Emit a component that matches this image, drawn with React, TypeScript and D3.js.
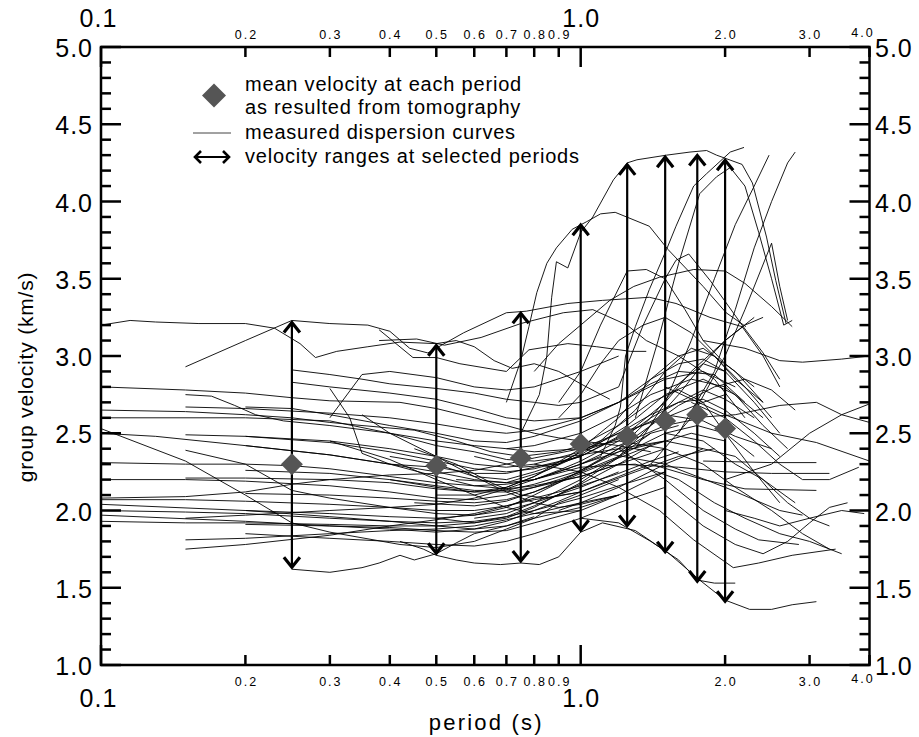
import { useEffect, useRef } from 'react';
import * as d3 from 'd3';

type Pt = [number, number];

// periods where tomography gives a mean velocity and a velocity range
const selectedPeriods = [0.25, 0.5, 0.75, 1.0, 1.25, 1.5, 1.75, 2.0];
const meanVelocity = [2.3, 2.29, 2.34, 2.43, 2.48, 2.58, 2.62, 2.53];
const minVelocity = [1.62, 1.71, 1.66, 1.86, 1.89, 1.72, 1.53, 1.4];
const maxVelocity = [3.23, 3.08, 3.29, 3.86, 4.25, 4.3, 4.31, 4.28];

const xMajorTicks = [0.1, 1.0];
const xMinorTicks = [0.2, 0.3, 0.4, 0.5, 0.6, 0.7, 0.8, 0.9, 2.0, 3.0, 4.0];
const yMajorTicks = [1.0, 1.5, 2.0, 2.5, 3.0, 3.5, 4.0, 4.5, 5.0];

const legendLabels = [
    'mean velocity at each period',
    'as resulted from tomography',
    'measured dispersion curves',
    'velocity ranges at selected periods',
];

// measured dispersion curves, [period (s), group velocity (km/s)]
const curvesFrom010: Pt[][] = [
    [[0.1, 3.2], [0.115, 3.23], [0.13, 3.22], [0.16, 3.21], [0.2, 3.21], [0.23, 3.18], [0.26, 3.08], [0.28, 2.99], [0.31, 3.03], [0.36, 3.06], [0.42, 3.09], [0.5, 3.08], [0.55, 3.1], [0.6, 3.06], [0.66, 2.97], [0.72, 2.92], [0.8, 2.95], [0.9, 2.9], [1.0, 2.82], [1.15, 2.72]],
    [[0.1, 2.8], [0.15, 2.78], [0.2, 2.76], [0.25, 2.73], [0.3, 2.71], [0.42, 2.7], [0.5, 2.66], [0.6, 2.6], [0.7, 2.55], [0.8, 2.5], [0.9, 2.47], [1.0, 2.45], [1.2, 2.42], [1.4, 2.38]],
    [[0.1, 2.65], [0.15, 2.64], [0.2, 2.62], [0.25, 2.6], [0.3, 2.57], [0.35, 2.55], [0.45, 2.52], [0.55, 2.45], [0.65, 2.38], [0.75, 2.35], [0.9, 2.38], [1.0, 2.42], [1.2, 2.55], [1.4, 2.7], [1.6, 2.78], [1.8, 2.7], [2.0, 2.5], [2.3, 2.25], [2.6, 2.05]],
    [[0.1, 2.6], [0.2, 2.6], [0.3, 2.58], [0.4, 2.5], [0.5, 2.42], [0.6, 2.38], [0.7, 2.33], [0.8, 2.32], [1.0, 2.36], [1.2, 2.4], [1.5, 2.45], [1.8, 2.4]],
    [[0.1, 2.53], [0.15, 2.32], [0.2, 2.1], [0.25, 1.92], [0.3, 1.86], [0.42, 1.78], [0.5, 1.76], [0.6, 1.8], [0.7, 1.88], [0.8, 1.95], [0.9, 2.05], [1.0, 2.1], [1.2, 2.2]],
    [[0.1, 2.5], [0.13, 2.48], [0.2, 2.42], [0.3, 2.36], [0.4, 2.3], [0.5, 2.25], [0.6, 2.2], [0.7, 2.18], [0.8, 2.2], [0.9, 2.26], [1.0, 2.32], [1.2, 2.45], [1.4, 2.6], [1.6, 2.7], [1.8, 2.78], [2.0, 2.72], [2.3, 2.6]],
    [[0.1, 2.31], [0.15, 2.3], [0.2, 2.3], [0.25, 2.29], [0.3, 2.27], [0.4, 2.22], [0.5, 2.18], [0.6, 2.16], [0.7, 2.17], [0.8, 2.2], [0.9, 2.25], [1.0, 2.3], [1.2, 2.38], [1.5, 2.45]],
    [[0.1, 2.2], [0.15, 2.2], [0.2, 2.19], [0.3, 2.16], [0.4, 2.12], [0.5, 2.08], [0.6, 2.07], [0.7, 2.1], [0.8, 2.15], [0.9, 2.2], [1.0, 2.25], [1.2, 2.35], [1.4, 2.5]],
    [[0.1, 2.08], [0.15, 2.09], [0.2, 2.12], [0.25, 2.17], [0.3, 2.2], [0.4, 2.23], [0.5, 2.24], [0.6, 2.26], [0.7, 2.3], [0.8, 2.34], [1.0, 2.4], [1.2, 2.5], [1.5, 2.6], [1.8, 2.7], [2.0, 2.75]],
    [[0.1, 2.07], [0.15, 2.07], [0.2, 2.06], [0.3, 2.04], [0.4, 2.02], [0.5, 2.0], [0.6, 2.0], [0.7, 2.03], [0.8, 2.08], [0.9, 2.12], [1.0, 2.16], [1.2, 2.24], [1.4, 2.32], [1.6, 2.38]],
    [[0.1, 2.04], [0.2, 2.0], [0.3, 1.98], [0.4, 1.96], [0.5, 1.95], [0.6, 1.97], [0.7, 2.02], [0.8, 2.1], [0.9, 2.18], [1.0, 2.26], [1.2, 2.4], [1.4, 2.6], [1.6, 2.82], [1.8, 2.95], [2.0, 2.9]],
    [[0.1, 2.0], [0.15, 1.99], [0.2, 1.98], [0.3, 1.95], [0.4, 1.93], [0.5, 1.92], [0.6, 1.93], [0.7, 1.96], [0.8, 2.0], [1.0, 2.08], [1.2, 2.16], [1.5, 2.25]],
    [[0.1, 1.97], [0.2, 1.93], [0.3, 1.9], [0.4, 1.88], [0.5, 1.86], [0.6, 1.88], [0.7, 1.93], [0.8, 2.0], [0.9, 2.06], [1.0, 2.12], [1.2, 2.22], [1.4, 2.3]],
    [[0.1, 1.93], [0.15, 1.92], [0.2, 1.92], [0.3, 1.91], [0.4, 1.9], [0.5, 1.9], [0.6, 1.92], [0.7, 1.96], [0.8, 2.03], [1.0, 2.17], [1.2, 2.3], [1.4, 2.42], [1.7, 2.5], [2.0, 2.45]],
];

const curvesFrom015: Pt[][] = [
    [[0.15, 2.93], [0.2, 3.1], [0.25, 3.23], [0.3, 3.21], [0.36, 3.2], [0.4, 3.16], [0.44, 3.05], [0.48, 3.02], [0.57, 3.15], [0.7, 3.28], [0.77, 3.29], [0.94, 3.34], [1.11, 3.36], [1.39, 3.38], [1.58, 3.34], [1.86, 3.25], [2.17, 3.19], [2.4, 3.0], [2.6, 2.8]],
    [[0.15, 2.75], [0.17, 2.74], [0.19, 2.68], [0.21, 2.62], [0.24, 2.58], [0.3, 2.55], [0.4, 2.5], [0.5, 2.45], [0.6, 2.42], [0.7, 2.4], [0.8, 2.42], [1.0, 2.5], [1.2, 2.62], [1.4, 2.75], [1.7, 2.85], [2.0, 2.8], [2.4, 2.6]],
    [[0.15, 2.67], [0.2, 2.66], [0.3, 2.63], [0.4, 2.6], [0.5, 2.56], [0.6, 2.52], [0.7, 2.5], [0.8, 2.52], [1.0, 2.6], [1.2, 2.7], [1.4, 2.82], [1.6, 2.9], [1.9, 2.88], [2.2, 2.7]],
    [[0.15, 2.49], [0.2, 2.48], [0.3, 2.45], [0.4, 2.4], [0.5, 2.35], [0.6, 2.3], [0.7, 2.28], [0.8, 2.3], [1.0, 2.38], [1.3, 2.5]],
    [[0.15, 2.39], [0.2, 2.3], [0.25, 2.13], [0.3, 2.08], [0.4, 2.02], [0.5, 1.98], [0.6, 1.97], [0.7, 2.0], [0.8, 2.05], [1.0, 2.15], [1.2, 2.25]],
    [[0.15, 2.21], [0.2, 2.21], [0.3, 2.2], [0.4, 2.18], [0.5, 2.14], [0.6, 2.12], [0.7, 2.12], [0.8, 2.15], [1.0, 2.22], [1.2, 2.3], [1.5, 2.4]],
    [[0.15, 1.95], [0.2, 1.97], [0.3, 2.0], [0.4, 2.02], [0.5, 2.04], [0.6, 2.08], [0.7, 2.14], [0.8, 2.2], [1.0, 2.3], [1.2, 2.42], [1.5, 2.55], [1.8, 2.6]],
    [[0.15, 1.81], [0.2, 1.82], [0.3, 1.85], [0.4, 1.87], [0.5, 1.88], [0.6, 1.9], [0.7, 1.94], [0.8, 1.98], [1.0, 2.05], [1.2, 2.1]],
    [[0.15, 1.75], [0.2, 1.78], [0.3, 1.84], [0.4, 1.9], [0.5, 1.94], [0.6, 1.98], [0.7, 2.03], [0.8, 2.07], [1.0, 2.12]],
];

const curvesFrom020: Pt[][] = [
    [[0.2, 2.67], [0.25, 2.66], [0.3, 2.62], [0.4, 2.55], [0.5, 2.5], [0.6, 2.45], [0.7, 2.44], [0.8, 2.48], [1.0, 2.58], [1.2, 2.7], [1.5, 2.85], [1.8, 2.9], [2.1, 2.8]],
    [[0.2, 2.48], [0.3, 2.44], [0.4, 2.38], [0.5, 2.32], [0.6, 2.27], [0.7, 2.25], [0.8, 2.27], [1.0, 2.35], [1.25, 2.5], [1.5, 2.7], [1.7, 2.9], [2.0, 3.1], [2.3, 3.25]],
    [[0.2, 2.42], [0.3, 2.36], [0.4, 2.3], [0.5, 2.22], [0.6, 2.16], [0.7, 2.14], [0.8, 2.16], [1.0, 2.22], [1.2, 2.3]],
    [[0.2, 2.26], [0.3, 2.24], [0.4, 2.2], [0.5, 2.16], [0.6, 2.13], [0.7, 2.13], [0.8, 2.17], [1.0, 2.26], [1.2, 2.38], [1.4, 2.5], [1.6, 2.55]],
    [[0.2, 2.11], [0.3, 2.1], [0.4, 2.08], [0.5, 2.06], [0.6, 2.05], [0.7, 2.07], [0.8, 2.12], [0.9, 2.18], [1.0, 2.24], [1.2, 2.34], [1.4, 2.42]],
    [[0.2, 2.0], [0.3, 1.96], [0.4, 1.93], [0.5, 1.9], [0.6, 1.88], [0.7, 1.9], [0.8, 1.95], [1.0, 2.02], [1.2, 2.1]],
    [[0.2, 1.91], [0.3, 1.9], [0.4, 1.89], [0.5, 1.87], [0.6, 1.86], [0.7, 1.87], [0.8, 1.92], [1.0, 2.0]],
    [[0.2, 1.85], [0.3, 1.82], [0.4, 1.8], [0.5, 1.78], [0.6, 1.77], [0.7, 1.8], [0.8, 1.85], [1.0, 1.95], [1.2, 2.05], [1.5, 2.15]],
];

const curvesFrom025: Pt[][] = [
    [[0.25, 2.91], [0.3, 2.88], [0.35, 2.85], [0.4, 2.82], [0.5, 2.79], [0.6, 2.76], [0.7, 2.72], [0.8, 2.7], [0.9, 2.68], [1.0, 2.7], [1.2, 2.8]],
    [[0.25, 2.83], [0.3, 2.8], [0.4, 2.76], [0.5, 2.72], [0.6, 2.66], [0.7, 2.6], [0.8, 2.58], [1.0, 2.6], [1.2, 2.7], [1.4, 2.85], [1.6, 2.95], [1.8, 2.98], [2.0, 2.9], [2.3, 2.7], [2.6, 2.5]],
    [[0.3, 2.79], [0.33, 2.6], [0.35, 2.37], [0.4, 2.3], [0.5, 2.28], [0.6, 2.24], [0.7, 2.24], [0.8, 2.28], [1.0, 2.35]],
    [[0.3, 2.6], [0.35, 2.88], [0.4, 2.9], [0.5, 2.86], [0.6, 2.8], [0.7, 2.78], [0.8, 2.8], [1.0, 2.9], [1.2, 3.0]],
    [[0.25, 1.62], [0.3, 1.6], [0.35, 1.63], [0.38, 1.66], [0.42, 1.71], [0.45, 1.68], [0.5, 1.72], [0.55, 1.79], [0.6, 1.85], [0.7, 1.9], [0.8, 1.96]],
    [[0.42, 1.8], [0.47, 1.75], [0.5, 1.71], [0.55, 1.68], [0.6, 1.66], [0.68, 1.65], [0.75, 1.66], [0.82, 1.65], [0.9, 1.7], [1.0, 1.86], [1.11, 1.92], [1.3, 1.87], [1.53, 1.72], [1.77, 1.55], [2.0, 1.42], [2.25, 1.36], [2.5, 1.36], [2.76, 1.39], [3.1, 1.41]],
    [[0.38, 3.1], [0.455, 3.11], [0.52, 3.07], [0.62, 3.12], [0.75, 3.21], [0.92, 3.28], [1.06, 3.3], [1.25, 3.2], [1.37, 3.1], [1.6, 3.0], [1.9, 2.85], [2.2, 2.6]],
    [[0.38, 3.17], [0.447, 2.99], [0.5, 2.99], [0.56, 2.95], [0.7, 2.9], [0.78, 3.04], [0.94, 3.08], [1.08, 3.06], [1.27, 3.03], [1.37, 3.03]],
];

const curvesHigh: Pt[][] = [
    [[0.7, 2.7], [0.75, 2.97], [0.78, 3.19], [0.81, 3.41], [0.85, 3.6], [0.89, 3.7], [0.96, 3.82], [1.03, 3.87], [1.1, 3.92], [1.18, 3.93], [1.39, 3.84], [1.52, 3.69], [1.8, 3.45], [2.01, 3.28], [2.21, 3.19]],
    [[0.75, 2.5], [0.82, 2.75], [0.85, 3.0], [0.87, 3.38], [0.89, 3.61], [0.94, 3.57], [1.0, 3.8], [1.06, 3.9], [1.17, 4.14], [1.25, 4.25], [1.31, 4.27], [1.51, 4.3], [1.69, 4.32], [1.83, 4.33], [1.92, 4.3], [2.17, 4.24], [2.28, 4.12], [2.44, 3.77], [2.55, 3.49], [2.68, 3.21]],
    [[1.0, 2.3], [1.1, 2.35], [1.18, 2.55], [1.21, 2.67], [1.24, 3.0], [1.3, 3.19], [1.39, 3.43], [1.51, 3.69], [1.58, 3.84], [1.72, 4.1], [1.83, 4.18], [2.05, 4.32], [2.19, 4.35]],
    [[1.3, 2.6], [1.45, 3.1], [1.6, 3.6], [1.77, 4.05], [1.92, 4.16], [2.05, 4.22], [2.2, 4.1], [2.35, 3.8], [2.5, 3.5], [2.65, 3.2], [2.76, 3.23]],
    [[1.3, 2.4], [1.5, 2.7], [1.7, 3.1], [1.9, 3.5], [2.1, 3.85], [2.3, 4.1], [2.47, 4.3]],
    [[1.4, 2.3], [1.7, 2.6], [2.0, 3.0], [2.2, 3.3], [2.5, 3.73], [2.6, 3.45], [2.7, 3.23]],
    [[1.6, 2.5], [1.9, 2.9], [2.1, 3.3], [2.3, 3.7], [2.5, 4.0], [2.7, 4.25], [2.8, 4.32]],
    [[0.8, 2.9], [0.9, 3.08], [1.0, 3.2], [1.15, 3.36], [1.29, 3.45], [1.46, 3.51], [1.72, 3.56], [2.0, 3.55], [2.2, 3.47], [2.5, 3.32], [2.76, 3.19]],
    [[0.9, 2.7], [1.0, 2.9], [1.1, 3.2], [1.25, 3.55], [1.37, 3.56], [1.5, 3.5], [1.65, 3.3], [1.8, 3.1], [2.0, 2.95], [2.3, 2.8]],
    [[1.2, 2.8], [1.35, 3.2], [1.5, 3.5], [1.58, 3.62], [1.68, 3.66], [1.86, 3.49], [2.17, 3.2], [2.4, 3.02], [2.6, 2.85]],
    [[0.9, 2.6], [1.0, 2.75], [1.1, 2.95], [1.2, 3.1], [1.35, 3.2], [1.5, 3.25], [1.7, 3.15], [1.9, 3.0], [2.1, 2.85], [2.4, 2.7]],
];

const curvesRight: Pt[][] = [
    [[1.0, 1.95], [1.2, 1.92], [1.4, 1.8], [1.6, 1.68], [1.75, 1.55], [1.9, 1.53], [2.1, 1.53]],
    [[0.8, 2.3], [1.0, 2.25], [1.2, 2.15], [1.46, 2.0], [1.72, 1.81], [2.08, 1.63], [2.35, 1.66], [2.76, 1.71], [3.4, 1.75]],
    [[1.2, 2.4], [1.5, 2.2], [1.8, 2.0], [2.1, 1.88], [2.35, 1.81], [2.85, 1.78]],
    [[1.5, 2.1], [1.8, 1.9], [2.1, 1.78], [2.4, 1.72], [2.7, 1.8], [3.0, 1.92], [3.3, 2.02], [3.6, 2.05]],
    [[1.7, 2.6], [2.1, 2.62], [2.6, 2.68], [3.1, 2.7], [3.5, 2.62], [4.0, 2.57]],
    [[1.5, 2.8], [2.0, 2.62], [2.5, 2.5], [3.1, 2.44], [4.0, 2.32]],
    [[1.2, 2.3], [1.6, 2.28], [2.0, 2.25], [2.5, 2.24], [3.3, 2.24]],
    [[1.8, 2.32], [2.5, 2.31], [3.1, 2.31]],
    [[1.4, 2.3], [1.8, 2.2], [2.2, 2.14], [3.1, 2.13]],
    [[1.0, 2.4], [1.5, 2.3], [2.0, 2.15], [2.3, 2.07], [2.6, 2.0], [2.9, 1.97]],
    [[2.0, 2.2], [2.5, 2.3], [3.0, 2.5], [3.5, 2.62], [4.0, 2.69]],
    [[1.8, 3.1], [2.2, 3.05], [2.6, 2.97], [2.9, 2.96], [3.5, 2.98], [4.0, 3.0]],
    [[1.5, 2.5], [1.8, 2.45], [2.1, 2.3], [2.4, 2.2], [2.7, 2.05], [3.0, 1.95], [3.3, 1.9]],
    [[1.7, 2.7], [2.0, 2.6], [2.3, 2.45], [2.6, 2.3], [2.9, 2.2], [3.3, 2.2], [3.8, 2.28]],
    [[2.0, 2.0], [2.3, 1.95], [2.6, 1.9], [3.0, 1.95], [3.5, 2.0], [3.9, 1.98]],
];

const curvesBand: Pt[][] = [
    [[0.4, 2.2], [0.5, 2.15], [0.6, 2.12], [0.7, 2.15], [0.8, 2.22], [0.9, 2.3], [1.0, 2.38], [1.2, 2.5], [1.4, 2.62], [1.6, 2.7], [1.8, 2.72], [2.0, 2.65], [2.3, 2.5], [2.6, 2.35]],
    [[0.45, 2.05], [0.6, 2.03], [0.7, 2.06], [0.8, 2.12], [1.0, 2.25], [1.2, 2.4], [1.4, 2.55], [1.6, 2.68], [1.9, 2.8], [2.2, 2.85], [2.5, 2.78], [2.8, 2.65]],
    [[0.4, 2.35], [0.5, 2.3], [0.6, 2.22], [0.7, 2.2], [0.8, 2.25], [1.0, 2.35], [1.2, 2.48], [1.5, 2.62], [1.8, 2.58], [2.1, 2.48], [2.5, 2.4]],
    [[0.5, 2.1], [0.6, 2.1], [0.7, 2.15], [0.8, 2.22], [1.0, 2.4], [1.2, 2.6], [1.4, 2.85], [1.6, 3.0], [1.8, 3.05], [2.1, 2.9], [2.4, 2.7]],
    [[0.6, 1.95], [0.7, 1.98], [0.8, 2.05], [1.0, 2.2], [1.2, 2.35], [1.4, 2.55], [1.6, 2.75], [1.8, 2.95], [2.0, 3.1], [2.2, 3.2], [2.4, 3.25]],
    [[0.7, 2.4], [0.8, 2.38], [1.0, 2.4], [1.2, 2.45], [1.5, 2.4], [1.8, 2.3], [2.1, 2.15], [2.5, 2.0], [2.9, 1.85], [3.3, 1.75]],
    [[0.8, 2.2], [1.0, 2.28], [1.3, 2.3], [1.6, 2.2], [1.9, 2.05], [2.2, 1.95], [2.6, 1.85], [3.0, 1.8], [3.5, 1.72]],
    [[0.9, 2.0], [1.0, 2.05], [1.2, 2.15], [1.5, 2.3], [1.8, 2.4], [2.1, 2.35], [2.4, 2.2], [2.8, 2.05]],
    [[0.35, 2.62], [0.4, 2.5], [0.5, 2.35], [0.6, 2.22], [0.7, 2.12], [0.8, 2.05], [0.9, 2.02], [1.0, 2.04], [1.2, 2.1]],
    [[0.3, 2.45], [0.4, 2.33], [0.5, 2.2], [0.6, 2.1], [0.7, 2.02], [0.8, 1.98], [1.0, 2.0], [1.2, 2.1], [1.5, 2.25]],
    [[0.45, 2.4], [0.55, 2.3], [0.65, 2.18], [0.75, 2.1], [0.85, 2.08], [1.0, 2.12], [1.3, 2.25], [1.6, 2.35], [1.9, 2.4]],
    [[0.5, 1.95], [0.6, 1.92], [0.7, 1.95], [0.8, 2.02], [1.0, 2.18], [1.25, 2.38], [1.5, 2.5], [1.75, 2.55], [2.0, 2.5], [2.3, 2.35]],
    [[0.55, 2.2], [0.7, 2.18], [0.85, 2.26], [1.0, 2.36], [1.25, 2.55], [1.5, 2.75], [1.8, 2.85], [2.1, 2.75], [2.4, 2.55], [2.7, 2.4]],
    [[0.6, 2.35], [0.75, 2.28], [0.9, 2.3], [1.1, 2.45], [1.3, 2.65], [1.5, 2.9], [1.7, 3.05], [1.9, 3.0], [2.2, 2.8], [2.5, 2.6]],
];

const FONT = "'Liberation Sans', Arial, Helvetica, sans-serif";

const App = () => {
    const svgRef = useRef<SVGSVGElement>(null);

    useEffect(() => {
        const svg = d3.select(svgRef.current);
        svg.selectAll('*').remove();

        const left = 101;
        const right = 869.5;
        const top = 47;
        const bottom = 665;

        const x = d3.scaleLog().domain([0.1, 4]).range([left, right]);
        const y = d3.scaleLinear().domain([1, 5]).range([bottom, top]);

        const addText = (
            px: number,
            py: number,
            str: string,
            size: number,
            anchor: string,
            spacing = 0,
            g: any = svg,
        ) =>
            g
                .append('text')
                .attr('x', px)
                .attr('y', py)
                .attr('text-anchor', anchor)
                .attr('font-family', FONT)
                .attr('font-size', size)
                .attr('letter-spacing', spacing)
                .attr('fill', '#000')
                .text(str);

        svg.append('defs')
            .append('clipPath')
            .attr('id', 'plot-clip')
            .append('rect')
            .attr('x', left)
            .attr('y', top)
            .attr('width', right - left)
            .attr('height', bottom - top);

        // dispersion curves
        const line = d3
            .line<Pt>()
            .x((d) => x(d[0]))
            .y((d) => y(d[1]));

        const allCurves = [
            ...curvesFrom010,
            ...curvesFrom015,
            ...curvesFrom020,
            ...curvesFrom025,
            ...curvesBand,
            ...curvesRight,
            ...curvesHigh,
        ];
        const curveGroup = svg.append('g').attr('clip-path', 'url(#plot-clip)');
        allCurves.forEach((c) => {
            curveGroup
                .append('path')
                .attr('d', line(c))
                .attr('fill', 'none')
                .attr('stroke', '#000')
                .attr('stroke-width', 0.9);
        });

        // velocity range arrows
        const arrows = svg.append('g').attr('stroke', '#000').attr('fill', 'none');
        selectedPeriods.forEach((p, i) => {
            const px = x(p);
            const yTop = y(maxVelocity[i]);
            const yBot = y(minVelocity[i]);
            arrows.append('line').attr('x1', px).attr('x2', px).attr('y1', yTop + 2).attr('y2', yBot - 2).attr('stroke-width', 2.2);
            arrows
                .append('path')
                .attr('d', `M${px - 8},${yTop + 12}L${px},${yTop + 2}L${px + 8},${yTop + 12}`)
                .attr('stroke-width', 3.2);
            arrows
                .append('path')
                .attr('d', `M${px - 8},${yBot - 12}L${px},${yBot - 2}L${px + 8},${yBot - 12}`)
                .attr('stroke-width', 3.2);
        });

        // mean velocities
        const diamond = (cx: number, cy: number, r: number) => `M${cx},${cy - r}L${cx + r},${cy}L${cx},${cy + r}L${cx - r},${cy}Z`;
        selectedPeriods.forEach((p, i) => {
            svg.append('path').attr('d', diamond(x(p), y(meanVelocity[i]), 11)).attr('fill', '#555');
        });

        // frame and ticks
        const axes = svg.append('g').attr('stroke', '#000').attr('stroke-width', 2.5);
        axes.append('rect')
            .attr('x', left)
            .attr('y', top)
            .attr('width', right - left)
            .attr('height', bottom - top)
            .attr('fill', 'none');

        const yMinorTicks = d3.range(10, 51).filter((k) => k % 5 !== 0).map((k) => k / 10);
        yMajorTicks.forEach((v) => {
            axes.append('line').attr('x1', left).attr('x2', left + 20).attr('y1', y(v)).attr('y2', y(v));
            axes.append('line').attr('x1', right).attr('x2', right - 20).attr('y1', y(v)).attr('y2', y(v));
        });
        yMinorTicks.forEach((v) => {
            axes.append('line').attr('x1', left).attr('x2', left + 10).attr('y1', y(v)).attr('y2', y(v));
            axes.append('line').attr('x1', right).attr('x2', right - 10).attr('y1', y(v)).attr('y2', y(v));
        });
        xMajorTicks.forEach((p) => {
            axes.append('line').attr('x1', x(p)).attr('x2', x(p)).attr('y1', bottom).attr('y2', bottom - 20);
            axes.append('line').attr('x1', x(p)).attr('x2', x(p)).attr('y1', top).attr('y2', top + 20);
        });
        xMinorTicks.forEach((p) => {
            axes.append('line').attr('x1', x(p)).attr('x2', x(p)).attr('y1', bottom).attr('y2', bottom - 10);
            axes.append('line').attr('x1', x(p)).attr('x2', x(p)).attr('y1', top).attr('y2', top + 10);
        });

        // tick labels
        yMajorTicks.forEach((v) => {
            addText(93, y(v) + 10, v.toFixed(1), 25, 'end', 1);
            addText(875, y(v) + 10, v.toFixed(1), 25, 'start', 1);
        });
        xMajorTicks.forEach((p) => {
            const px = p === 0.1 ? 98 : x(p);
            addText(px + 0.5, 27, p.toFixed(1), 25, 'middle', 1);
            addText(px + 0.5, 707, p.toFixed(1), 25, 'middle', 1);
        });
        xMinorTicks.forEach((p) => {
            const edge = p === 4.0;
            const px = edge ? 862 : x(p);
            addText(px + 1, edge ? 37 : 39, p.toFixed(1), 12.5, 'middle', 2);
            addText(px + 1, edge ? 683 : 686, p.toFixed(1), 12.5, 'middle', 2);
        });

        // axis titles
        addText((left + right) / 2 + 1, 730, 'period (s)', 22, 'middle', 2.2);
        svg.append('text')
            .attr('transform', 'translate(33,377) rotate(-90)')
            .attr('text-anchor', 'middle')
            .attr('font-family', FONT)
            .attr('font-size', 21)
            .attr('letter-spacing', 0.8)
            .text('group velocity (km/s)');

        // legend
        const legend = svg.append('g');
        legend.append('path').attr('d', diamond(214, 95.5, 12)).attr('fill', '#555');
        legend.append('line').attr('x1', 193).attr('x2', 231).attr('y1', 133).attr('y2', 133).attr('stroke', '#444').attr('stroke-width', 1);
        legend.append('line').attr('x1', 195).attr('x2', 229).attr('y1', 157).attr('y2', 157).attr('stroke', '#000').attr('stroke-width', 2);
        legend.append('path').attr('d', 'M201,151L195,157L201,163').attr('stroke', '#000').attr('stroke-width', 2.6).attr('fill', 'none');
        legend.append('path').attr('d', 'M223,151L229,157L223,163').attr('stroke', '#000').attr('stroke-width', 2.6).attr('fill', 'none');
        const legendBaselines = [90.5, 113.5, 138.5, 162.5];
        legendLabels.forEach((label, i) => addText(245, legendBaselines[i], label, 20, 'start', 0.8, legend));
    }, []);

    return (
        <div style={{ position: 'absolute', left: 0, top: 0 }}>
            <svg ref={svgRef} width={919} height={737} style={{ display: 'block', background: '#fff' }}></svg>
        </div>
    );
};

export default App;
